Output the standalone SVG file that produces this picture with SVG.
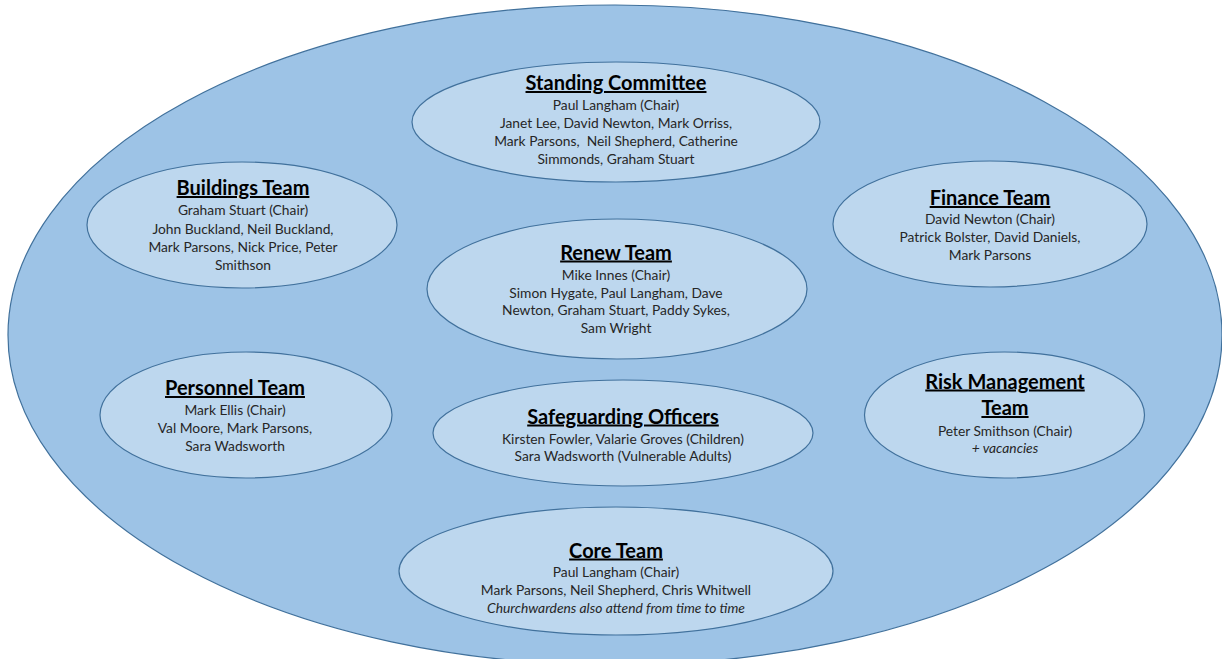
<svg xmlns="http://www.w3.org/2000/svg" width="1222" height="659" viewBox="0 0 1222 659">
  <style>
    .outer { fill: #9DC3E6; stroke: #41719C; stroke-width: 1.2; }
    .team { fill: #BDD7EE; stroke: #41719C; stroke-width: 1.2; }
    text { font-family: Lato, "Open Sans", "Liberation Sans", sans-serif; text-anchor: middle; }
    .title { font-size: 20px; font-weight: bold; fill: #000; text-decoration: underline; }
    .body { font-size: 13.8px; fill: #262626; }
    .note { font-size: 13.8px; fill: #262626; font-style: italic; }
  </style>
  <rect width="1222" height="659" fill="#FFFFFF"/>

  <!-- Church council: the enclosing body -->
  <g id="council">
    <ellipse class="outer" cx="615" cy="335" rx="607" ry="330"/>
  </g>

  <g id="connectors"></g>

  <g id="standing-committee">
    <ellipse class="team" cx="616" cy="122" rx="204" ry="60"/>
    <text class="title" x="616" y="90">Standing Committee</text>
    <text class="body" x="616" y="110">Paul Langham (Chair)</text>
    <text class="body" x="616" y="128">Janet Lee, David Newton, Mark Orriss,</text>
    <text class="body" x="616" y="146" style="white-space:pre">Mark Parsons,  Neil Shepherd, Catherine</text>
    <text class="body" x="616" y="163.5">Simmonds, Graham Stuart</text>
  </g>

  <g id="buildings-team">
    <ellipse class="team" cx="242" cy="225" rx="155" ry="63"/>
    <text class="title" x="243" y="195">Buildings Team</text>
    <text class="body" x="243" y="215">Graham Stuart (Chair)</text>
    <text class="body" x="243" y="233.5">John Buckland, Neil Buckland,</text>
    <text class="body" x="243" y="251.5">Mark Parsons, Nick Price, Peter</text>
    <text class="body" x="243" y="269.5">Smithson</text>
  </g>

  <g id="finance-team">
    <ellipse class="team" cx="990" cy="224" rx="157" ry="63"/>
    <text class="title" x="990" y="205">Finance Team</text>
    <text class="body" x="990" y="223.5">David Newton (Chair)</text>
    <text class="body" x="990" y="241.5">Patrick Bolster, David Daniels,</text>
    <text class="body" x="990" y="260">Mark Parsons</text>
  </g>

  <g id="renew-team">
    <ellipse class="team" cx="617" cy="289" rx="190" ry="70"/>
    <text class="title" x="616" y="259.5">Renew Team</text>
    <text class="body" x="616" y="279.5">Mike Innes (Chair)</text>
    <text class="body" x="616" y="297.5">Simon Hygate, Paul Langham, Dave</text>
    <text class="body" x="616" y="315">Newton, Graham Stuart, Paddy Sykes,</text>
    <text class="body" x="616" y="333">Sam Wright</text>
  </g>

  <g id="personnel-team">
    <ellipse class="team" cx="246" cy="415" rx="146" ry="63"/>
    <text class="title" x="235" y="395">Personnel Team</text>
    <text class="body" x="235" y="415">Mark Ellis (Chair)</text>
    <text class="body" x="235" y="433">Val Moore, Mark Parsons,</text>
    <text class="body" x="235" y="451">Sara Wadsworth</text>
  </g>

  <g id="safeguarding-officers">
    <ellipse class="team" cx="623" cy="433" rx="190" ry="53"/>
    <text class="title" x="623" y="423.5">Safeguarding Officers</text>
    <text class="body" x="623" y="443.5">Kirsten Fowler, Valarie Groves (Children)</text>
    <text class="body" x="623" y="461">Sara Wadsworth (Vulnerable Adults)</text>
  </g>

  <g id="risk-management-team">
    <ellipse class="team" cx="1004.5" cy="415" rx="140" ry="63"/>
    <text class="title" x="1005" y="388.5">Risk Management</text>
    <text class="title" x="1005" y="415">Team</text>
    <text class="body" x="1005" y="436">Peter Smithson (Chair)</text>
    <text class="note" x="1005" y="453">+ vacancies</text>
  </g>

  <g id="core-team">
    <ellipse class="team" cx="616" cy="571" rx="217" ry="64"/>
    <text class="title" x="616" y="557.5">Core Team</text>
    <text class="body" x="616" y="577">Paul Langham (Chair)</text>
    <text class="body" x="616" y="594.5">Mark Parsons, Neil Shepherd, Chris Whitwell</text>
    <text class="note" x="616" y="613">Churchwardens also attend from time to time</text>
  </g>
</svg>
